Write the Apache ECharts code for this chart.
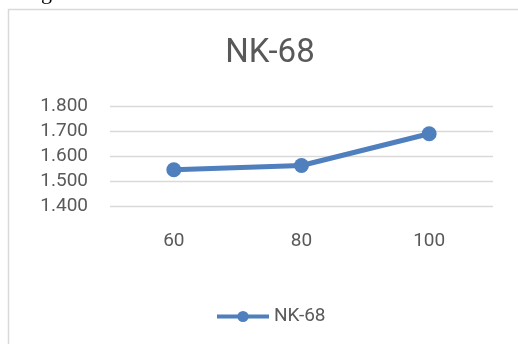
<!DOCTYPE html>
<html>
<head>
<meta charset="utf-8">
<script src="https://cdn.jsdelivr.net/npm/echarts@6/dist/echarts.min.js"></script>
<style>
  html, body { margin: 0; padding: 0; background: #ffffff; }
  #chart { width: 518px; height: 344px; }
</style>
</head>
<body>
<div id="chart"></div>
<script>
// Chart data
const seriesName = 'NK-68';
const categories = ['60', '80', '100'];
const values = [1.547, 1.564, 1.691];
const yMin = 1.4;
const yMax = 1.8;
const yStep = 0.1;

const FONT = 'Roboto';
const TEXT_GREY = '#595959';
const LINE_BLUE = '#4f7fbd';

const chart = echarts.init(document.getElementById('chart'), null, { renderer: 'canvas' });

chart.setOption({
  backgroundColor: '#ffffff',
  animation: false,
  title: {
    text: seriesName,
    left: 265,
    top: 32,
    textAlign: 'center',
    textStyle: { fontFamily: FONT, fontSize: 33, fontWeight: 'normal', color: TEXT_GREY }
  },
  legend: {
    left: 210,
    top: 302,
    itemWidth: 52,
    itemHeight: 14,
    itemGap: 6,
    lineStyle: { width: 4, color: LINE_BLUE },
    itemStyle: { color: LINE_BLUE },
    textStyle: { fontFamily: FONT, fontSize: 19, color: TEXT_GREY },
    data: [seriesName]
  },
  grid: { left: 110, right: 25, top: 106.5, bottom: 137.5, containLabel: false },
  xAxis: {
    type: 'category',
    data: categories,
    boundaryGap: true,
    axisLine: { show: false },
    axisTick: { show: false },
    axisLabel: { margin: 25, fontFamily: FONT, fontSize: 19, color: TEXT_GREY }
  },
  yAxis: {
    type: 'value',
    min: yMin,
    max: yMax,
    interval: yStep,
    axisLine: { show: false },
    axisTick: { show: false },
    splitLine: { lineStyle: { color: '#d9d9d9', width: 1.3 } },
    axisLabel: {
      margin: 22,
      fontFamily: FONT,
      fontSize: 19,
      color: TEXT_GREY,
      formatter: v => v.toFixed(3)
    }
  },
  series: [{
    name: seriesName,
    type: 'line',
    data: values,
    symbol: 'circle',
    symbolSize: 15,
    lineStyle: { color: LINE_BLUE, width: 5 },
    itemStyle: { color: LINE_BLUE }
  }],
  graphic: [
    {
      type: 'rect',
      shape: { x: 8.5, y: 9.5, width: 530, height: 360 },
      style: { fill: 'none', stroke: '#d9d9d9', lineWidth: 1.5 },
      silent: true
    },
    {
      type: 'text',
      x: 41,
      y: -18,
      style: { text: 'g', fontFamily: 'Liberation Serif', fontSize: 22, fill: '#000000' },
      silent: true
    }
  ]
});
</script>
</body>
</html>
